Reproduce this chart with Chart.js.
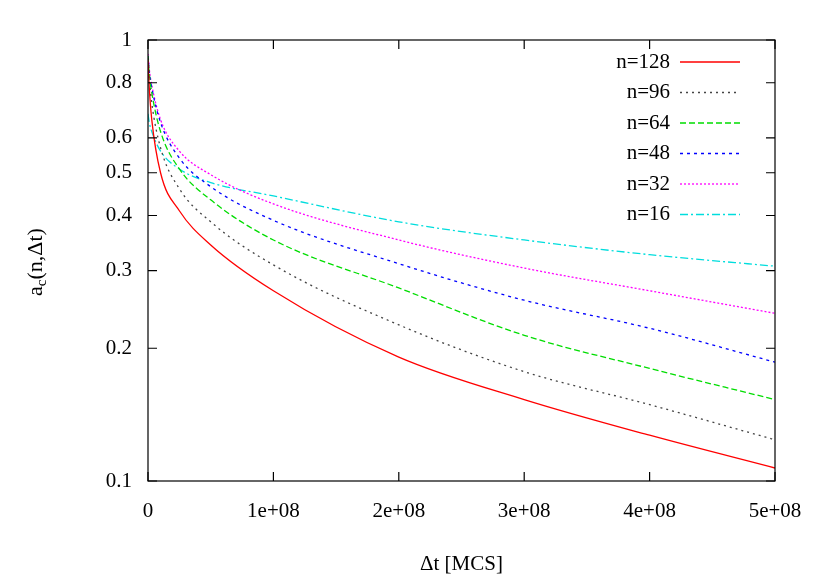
<!DOCTYPE html>
<html><head><meta charset="utf-8">
<script src="https://cdn.jsdelivr.net/npm/chart.js@4"></script>
<style>body{margin:0;background:#fff}#w{width:830px;height:581px}</style>
</head><body><div id="w"><canvas id="c"></canvas></div>
<script>
const times = [0, 0.01e8, 0.03e8, 0.1e8, 0.25e8, 0.5e8, 1e8, 2e8, 3e8, 4e8, 5e8];
const n128 = [0.90, 0.78, 0.66, 0.50, 0.41, 0.343, 0.27, 0.191, 0.153, 0.127, 0.107];
const n96  = [0.91, 0.82, 0.72, 0.57, 0.46, 0.387, 0.309, 0.226, 0.177, 0.149, 0.124];
const n64  = [0.92, 0.84, 0.76, 0.62, 0.51, 0.434, 0.352, 0.274, 0.214, 0.180, 0.153];
const n48  = [0.92, 0.85, 0.78, 0.65, 0.54, 0.465, 0.39, 0.311, 0.257, 0.222, 0.186];
const n32  = [0.93, 0.86, 0.79, 0.66, 0.56, 0.495, 0.425, 0.352, 0.304, 0.270, 0.240];
const n16  = [0.68, 0.65, 0.62, 0.56, 0.51, 0.475, 0.443, 0.387, 0.352, 0.326, 0.307];
const labels = ["n=128","n=96","n=64","n=48","n=32","n=16"];
const yTicks = [0.1,0.2,0.3,0.4,0.5,0.6,0.8,1];
const xTicks = [0,1e8,2e8,3e8,4e8,5e8];
const xTickLabels = ["0","1e+08","2e+08","3e+08","4e+08","5e+08"];

const styles = [
 {c:'#ff0000', d:[]},
 {c:'#444444', d:[2,4]},
 {c:'#00dd00', d:[6,3]},
 {c:'#0000ff', d:[3,4]},
 {c:'#ff00ff', d:[2,2]},
 {c:'#00dddd', d:[8,3,2,3]}
];
const series=[n128,n96,n64,n48,n32,n16];
const F='"Liberation Serif", serif';
const datasets = series.map((s,i)=>({label:labels[i], data:s.map((v,j)=>({x:times[j],y:v})),
  borderColor:styles[i].c, borderDash:styles[i].d, borderWidth:1.3, pointRadius:0, cubicInterpolationMode:'monotone', fill:false}));

const deco={id:'deco', afterDraw(ch){
  const ctx=ch.ctx,a=ch.chartArea,xs=ch.scales.x,ys=ch.scales.y;
  ctx.save();ctx.strokeStyle='#000';ctx.lineWidth=1.2;
  ctx.strokeRect(a.left,a.top,a.right-a.left,a.bottom-a.top);
  ctx.beginPath();
  yTicks.forEach(v=>{const p=ys.getPixelForValue(v);ctx.moveTo(a.left,p);ctx.lineTo(a.left+9,p);ctx.moveTo(a.right,p);ctx.lineTo(a.right-9,p);});
  xTicks.forEach(v=>{const p=xs.getPixelForValue(v);ctx.moveTo(p,a.bottom);ctx.lineTo(p,a.bottom-9);ctx.moveTo(p,a.top);ctx.lineTo(p,a.top+9);});
  ctx.stroke();
  ctx.font='21px '+F;ctx.textAlign='right';ctx.textBaseline='middle';ctx.fillStyle='#000';
  labels.forEach((l,i)=>{const y=62+i*30.5;ctx.fillText(l,670,y);
    ctx.strokeStyle=styles[i].c;ctx.setLineDash(styles[i].d);ctx.lineWidth=1.3;ctx.beginPath();ctx.moveTo(680,y);ctx.lineTo(740,y);ctx.stroke();});
  ctx.setLineDash([]);
  ctx.translate(36,262);ctx.rotate(-Math.PI/2);
  ctx.font='22px '+F;
  const t1='a',t2='c',t3='(n,\u0394t)';
  const w1=ctx.measureText(t1).width;ctx.font='15px '+F;const w2=ctx.measureText(t2).width;ctx.font='22px '+F;const w3=ctx.measureText(t3).width;
  let x=-(w1+w2+w3)/2;ctx.textAlign='left';
  ctx.fillText(t1,x,0);x+=w1;ctx.font='15px '+F;ctx.fillText(t2,x,6);x+=w2;ctx.font='22px '+F;ctx.fillText(t3,x,0);
  ctx.restore();
}};

new Chart(document.getElementById('c'),{type:'line',data:{datasets},plugins:[deco],
 options:{responsive:true,maintainAspectRatio:false,animation:false,
  layout:{padding:{top:40,right:55,left:0,bottom:0}},
  plugins:{legend:{display:false},tooltip:{enabled:false}},
  scales:{
   x:{type:'linear',min:0,max:5e8,grid:{display:false},border:{display:false},
     afterBuildTicks:s=>{s.ticks=xTicks.map(v=>({value:v}));},
     afterFit:s=>{s.height=100;},
     ticks:{font:{family:F,size:21},color:'#000',padding:10,maxRotation:0,callback:(v)=>xTickLabels[xTicks.indexOf(v)]},
     title:{display:true,text:'\u0394t [MCS]',font:{family:F,size:21},color:'#000',padding:{top:18}}},
   y:{type:'logarithmic',min:0.1,max:1,grid:{display:false},border:{display:false},
     afterBuildTicks:s=>{s.ticks=yTicks.map(v=>({value:v}));},
     afterFit:s=>{s.width=148;},
     ticks:{font:{family:F,size:21},color:'#000',padding:8,callback:v=>String(v)}}
  }}});
</script></body></html>
